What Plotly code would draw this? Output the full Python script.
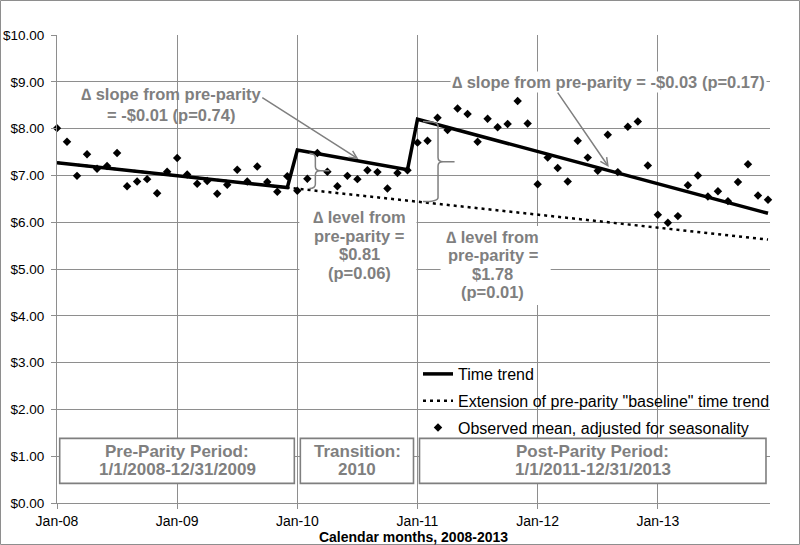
import plotly.graph_objects as go

# ---------------- data ----------------
months = list(range(72))  # 0 = Jan-2008 ... 71 = Dec-2013
x_tick_vals = [0, 12, 24, 36, 48, 60]
x_tick_text = ["Jan-08", "Jan-09", "Jan-10", "Jan-11", "Jan-12", "Jan-13"]
y_tick_vals = [0, 1, 2, 3, 4, 5, 6, 7, 8, 9, 10]
y_tick_text = ["$0.00", "$1.00", "$2.00", "$3.00", "$4.00", "$5.00",
               "$6.00", "$7.00", "$8.00", "$9.00", "$10.00"]

observed = [8.01, 7.72, 6.99, 7.45, 7.14, 7.20, 7.48, 6.77, 6.87, 6.92, 6.62, 7.08,
            7.37, 7.02, 6.82, 6.88, 6.61, 6.80, 7.12, 6.87, 7.19, 6.86, 6.65, 6.98,
            6.67, 6.93, 7.48, 7.08, 6.77, 6.99, 6.92, 7.11, 7.07, 6.72, 7.05, 7.11,
            7.70, 7.74, 8.23, 7.97, 8.43, 8.31, 7.72, 8.21, 8.03, 8.10, 8.59, 8.11,
            6.81, 7.38, 7.16, 6.87, 7.74, 7.38, 7.10, 7.87, 7.07, 8.04, 8.15, 7.21,
            6.16, 5.99, 6.13, 6.79, 7.00, 6.55, 6.66, 6.45, 6.86, 7.24, 6.57, 6.48]

trend_x = [0, 23, 24, 35, 36, 71]
trend_y = [7.27, 6.74, 7.54, 7.12, 8.20, 6.19]

baseline_x = [0, 71]
baseline_y = [7.27, 5.63]

series_names = ["Time trend",
                'Extension of pre-parity "baseline" time trend',
                "Observed mean, adjusted for seasonality"]

# ---------------- styling ----------------
FONT = "Liberation Sans, Arial, sans-serif"
GRAY = "#7f7f7f"
GRID = "#8e8e8e"
W, H = 800, 545
ML, MR, MT, MB = 57, 30, 35, 42

fig = go.Figure()

fig.add_trace(go.Scatter(
    x=baseline_x, y=baseline_y, mode="lines", name=series_names[1],
    line=dict(color="black", width=2.5, dash="3px,4px"),
    legendgroup="b", legendrank=2))
fig.add_trace(go.Scatter(
    x=trend_x, y=trend_y, mode="lines", name=series_names[0],
    line=dict(color="black", width=3.5),
    legendgroup="a", legendrank=1))
fig.add_trace(go.Scatter(
    x=months, y=observed, mode="markers", name=series_names[2],
    marker=dict(symbol="diamond", color="black", size=6.5),
    cliponaxis=False, legendgroup="c", legendrank=3))

shapes = []
# outer chart border
pw, ph = W - ML - MR, H - MT - MB
shapes.append(dict(type="rect", xref="paper", yref="paper",
                   x0=-(ML - 0.5) / pw, x1=1 + (MR - 0.5) / pw,
                   y0=-(MB - 0.5) / ph, y1=1 + (MT - 0.5) / ph,
                   line=dict(color=GRID, width=1), layer="below"))

# white text boxes for level annotations
shapes.append(dict(type="rect", xref="x", yref="y", x0=24.2, x1=35.9, y0=4.55, y1=6.36,
                   fillcolor="white", line=dict(width=0), layer="above"))
shapes.append(dict(type="rect", xref="x", yref="y", x0=38.3, x1=49.3, y0=4.23, y1=5.92,
                   fillcolor="white", line=dict(width=0), layer="above"))

# period boxes
for x0, x1 in [(0.27, 23.7), (24.3, 35.6), (36.2, 70.8)]:
    shapes.append(dict(type="rect", xref="x", yref="y", x0=x0, x1=x1, y0=0.42, y1=1.38,
                       fillcolor="white", line=dict(color=GRAY, width=1.6), layer="above"))


def brace(x, top, bot, mid, hook, tip):
    # right curly brace in data coordinates (months, $)
    dy = 0.09
    return (f"M{x - hook},{top} Q{x},{top} {x},{top - dy} "
            f"L{x},{mid + dy} Q{x},{mid} {x + 0.5},{mid} L{tip},{mid} "
            f"M{x + 0.5},{mid} Q{x},{mid} {x},{mid - dy} "
            f"L{x},{bot + dy} Q{x},{bot} {x - hook},{bot}")


shapes.append(dict(type="path", xref="x", yref="y",
                   path=brace(25.8, 7.47, 6.72, 7.10, 0.6, 27.2),
                   line=dict(color=GRAY, width=1.5)))
shapes.append(dict(type="path", xref="x", yref="y",
                   path=brace(38.05, 8.15, 6.44, 7.29, 1.5, 39.7),
                   line=dict(color=GRAY, width=1.5)))

ann = []


def text_lines(xc, ys, lines, bg=None, size=16.5):
    for yy, t in zip(ys, lines):
        d = dict(x=xc, y=yy, xref="x", yref="y", text=f"<b>{t}</b>", showarrow=False,
                 font=dict(family=FONT, size=size, color=GRAY),
                 xanchor="center", yanchor="middle")
        if bg:
            d["bgcolor"] = bg
        ann.append(d)


text_lines(11.4, [8.73, 8.29], ["∆ slope from pre-parity", "= -$0.01 (p=0.74)"])
text_lines(55.1, [9.0], ["∆ slope from pre-parity = -$0.03 (p=0.17)"], bg="white")
text_lines(30.2, [6.12, 5.705, 5.32, 4.92], ["∆ level from", "pre-parity =", "$0.81", "(p=0.06)"])
text_lines(43.5, [5.69, 5.30, 4.90, 4.51], ["∆ level from", "pre-parity =", "$1.78", "(p=0.01)"])
text_lines(12.0, [1.09, 0.72], ["Pre-Parity Period:", "1/1/2008-12/31/2009"], size=17)
text_lines(30.0, [1.09, 0.72], ["Transition:", "2010"], size=17)
text_lines(53.5, [1.09, 0.72], ["Post-Parity Period:", "1/1/2011-12/31/2013"], size=17)

# arrows
for (hx, hy, tx, ty) in [(30.1, 7.35, 20.35, 8.68), (55.1, 7.18, 49.9, 8.80)]:
    ann.append(dict(x=hx, y=hy, xref="x", yref="y", ax=tx, ay=ty, axref="x", ayref="y",
                    text="", showarrow=True, arrowhead=5, arrowsize=1, arrowwidth=1.5,
                    arrowcolor=GRAY))

fig.update_layout(
    width=W, height=H,
    margin=dict(l=ML, r=MR, t=MT, b=MB, autoexpand=False),
    paper_bgcolor="white", plot_bgcolor="white",
    font=dict(family=FONT, color="black", size=14),
    shapes=shapes, annotations=ann,
    showlegend=True,
    legend=dict(x=(418 - ML) / pw, y=(H - MB - 357) / ph, xanchor="left", yanchor="top",
                bgcolor="rgba(0,0,0,0)", font=dict(family=FONT, size=16, color="black"),
                tracegroupgap=3, traceorder="grouped"),
    xaxis=dict(range=[0, 71.2], tickmode="array", tickvals=x_tick_vals, ticktext=x_tick_text,
               showgrid=True, gridcolor=GRID, gridwidth=1, zeroline=False,
               showline=True, linecolor=GRID, linewidth=1, automargin=False,
               ticks="outside", ticklen=5, tickcolor=GRID,
               tickfont=dict(size=14, color="black"),
               title=dict(text="<b>Calendar months, 2008-2013</b>",
                          font=dict(size=14, color="black"), standoff=2)),
    yaxis=dict(range=[0, 10], tickmode="array", tickvals=y_tick_vals, ticktext=y_tick_text,
               showgrid=True, gridcolor=GRID, gridwidth=1, zeroline=False,
               showline=True, linecolor=GRID, linewidth=1, automargin=False,
               ticks="outside", ticklen=5, tickcolor=GRID,
               tickfont=dict(size=13.5, color="black"), ticklabelstandoff=4),
)

fig.write_html("out.html", config={"displayModeBar": False},
               post_script="document.body.style.margin='0';document.body.style.padding='0';")
